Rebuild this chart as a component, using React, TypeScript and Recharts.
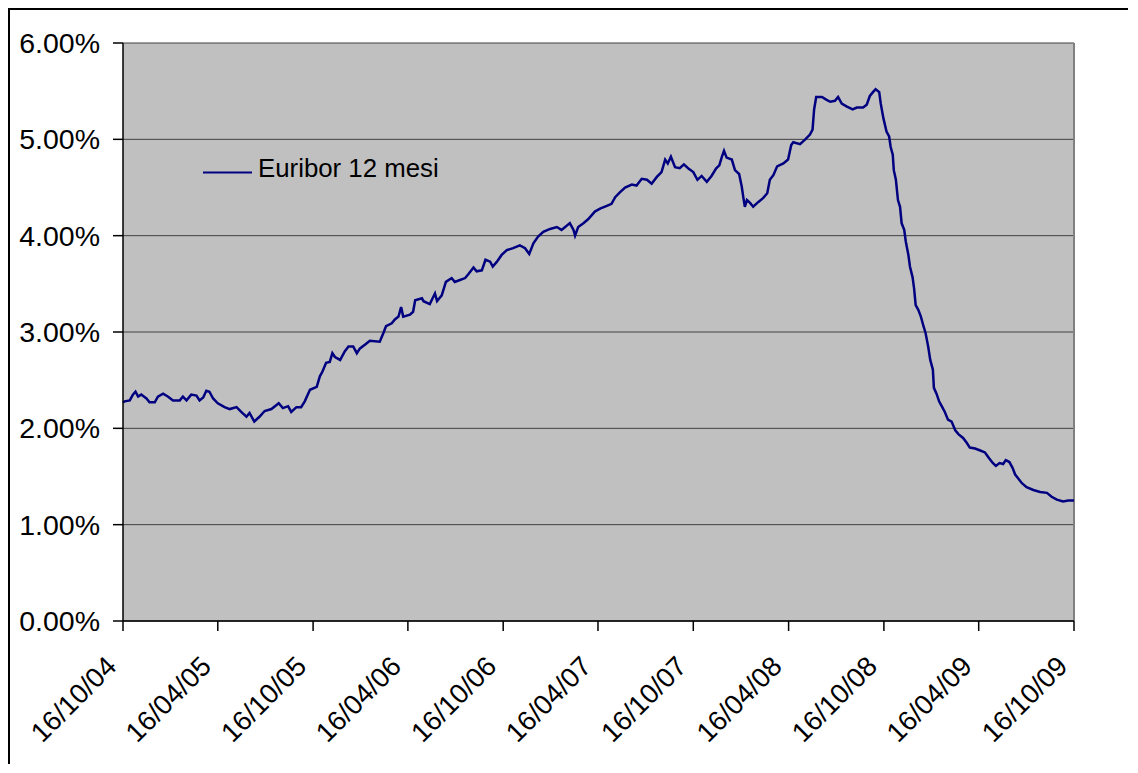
import { LineChart, Line, XAxis, YAxis, CartesianGrid, Legend, ReferenceLine } from 'recharts';

// days since 16/10/04
const days = [
  0, 3, 13, 19, 24, 29, 35, 45, 51, 61, 67, 77, 86, 96, 109, 115, 122, 131, 141, 147,
  154, 160, 166, 173, 182, 195, 205, 218, 227, 237, 243, 252, 262, 272, 285, 299, 307, 317, 323, 333,
  342, 349, 359, 372, 378, 383, 390, 397, 402, 407, 417, 426, 433, 442, 449, 455, 465, 474, 493, 500,
  505, 516, 522, 529, 534, 538, 551, 557, 561, 574, 577, 589, 599, 603, 612, 620, 631, 637, 647, 657,
  663, 673, 679, 689, 696, 705, 710, 718, 727, 737, 749, 762, 772, 780, 788, 797, 807, 820, 833, 842,
  849, 858, 865, 868, 874, 884, 893, 906, 916, 929, 938, 945, 954, 964, 977, 986, 996, 1006, 1015, 1025,
  1034, 1041, 1046, 1052, 1060, 1069, 1077, 1085, 1095, 1103, 1111, 1121, 1130, 1139, 1145, 1150, 1154, 1159, 1169, 1175,
  1183, 1188, 1191, 1194, 1198, 1204, 1210, 1220, 1229, 1237, 1242, 1249, 1256, 1268, 1277, 1283, 1287, 1300, 1310, 1319,
  1324, 1327, 1331, 1342, 1351, 1358, 1367, 1373, 1380, 1390, 1401, 1409, 1421, 1428, 1434, 1440, 1445, 1452, 1455, 1460,
  1466, 1471, 1474, 1478, 1480, 1484, 1488, 1492, 1495, 1500, 1503, 1508, 1511, 1516, 1519, 1522, 1527, 1532, 1537, 1541,
  1546, 1550, 1555, 1557, 1562, 1567, 1572, 1578, 1584, 1591, 1598, 1604, 1613, 1620, 1626, 1636, 1646, 1655, 1663, 1670,
  1676, 1683, 1690, 1695, 1702, 1708, 1713, 1719, 1726, 1735, 1748, 1761, 1774, 1783, 1793, 1805, 1815, 1826,
];

// Euribor 12 mesi, %
const rates = [
  2.27, 2.28, 2.29, 2.35, 2.38, 2.33, 2.35, 2.31, 2.27, 2.27, 2.33, 2.36, 2.33, 2.29, 2.29, 2.33, 2.29, 2.35, 2.34, 2.29,
  2.32, 2.39, 2.38, 2.31, 2.26, 2.22, 2.20, 2.22, 2.17, 2.12, 2.16, 2.07, 2.12, 2.18, 2.20, 2.26, 2.21, 2.23, 2.17, 2.22,
  2.22, 2.28, 2.40, 2.43, 2.54, 2.59, 2.68, 2.69, 2.78, 2.74, 2.71, 2.80, 2.85, 2.85, 2.78, 2.83, 2.87, 2.91, 2.90, 2.99,
  3.06, 3.09, 3.13, 3.16, 3.26, 3.16, 3.18, 3.21, 3.33, 3.35, 3.32, 3.29, 3.40, 3.32, 3.38, 3.52, 3.56, 3.52, 3.54, 3.56,
  3.60, 3.67, 3.63, 3.64, 3.75, 3.73, 3.68, 3.73, 3.80, 3.85, 3.87, 3.90, 3.87, 3.81, 3.92, 3.99, 4.04, 4.07, 4.09, 4.06,
  4.09, 4.13, 4.06, 4.00, 4.09, 4.13, 4.17, 4.25, 4.28, 4.31, 4.33, 4.40, 4.45, 4.50, 4.53, 4.52, 4.59, 4.58, 4.54, 4.61,
  4.66, 4.79, 4.75, 4.82, 4.71, 4.70, 4.74, 4.70, 4.66, 4.58, 4.62, 4.56, 4.62, 4.70, 4.73, 4.82, 4.88, 4.81, 4.79, 4.68,
  4.64, 4.51, 4.40, 4.30, 4.37, 4.34, 4.30, 4.35, 4.39, 4.44, 4.58, 4.63, 4.72, 4.75, 4.79, 4.94, 4.97, 4.95, 5.00, 5.05,
  5.10, 5.31, 5.44, 5.44, 5.41, 5.39, 5.40, 5.44, 5.37, 5.34, 5.31, 5.33, 5.33, 5.36, 5.45, 5.49, 5.52, 5.49, 5.37, 5.22,
  5.08, 5.03, 4.92, 4.84, 4.68, 4.58, 4.37, 4.30, 4.13, 4.06, 3.94, 3.80, 3.68, 3.57, 3.45, 3.28, 3.23, 3.16, 3.06, 2.99,
  2.85, 2.71, 2.61, 2.42, 2.36, 2.28, 2.23, 2.17, 2.09, 2.07, 1.98, 1.94, 1.90, 1.85, 1.80, 1.79, 1.77, 1.75, 1.69, 1.64,
  1.61, 1.64, 1.63, 1.67, 1.65, 1.59, 1.52, 1.48, 1.43, 1.39, 1.36, 1.34, 1.33, 1.29, 1.26, 1.24, 1.25, 1.25,
];

const tickLabels = [
  '16/10/04', '16/04/05', '16/10/05', '16/04/06', '16/10/06', '16/04/07',
  '16/10/07', '16/04/08', '16/10/08', '16/04/09', '16/10/09',
];

const yTicks = [0, 1, 2, 3, 4, 5, 6];

const seriesName = 'Euribor 12 mesi';

const toTime = (s: string) => {
  const [d, m, y] = s.split('/').map(Number);
  return Date.UTC(2000 + y, m - 1, d);
};
const start = toTime(tickLabels[0]);
const tickDays = tickLabels.map((s) => Math.round((toTime(s) - start) / 86400000));
const labelByDay: Record<number, string> = {};
tickDays.forEach((d, i) => (labelByDay[d] = tickLabels[i]));

const data = days.map((d, i) => ({ day: d, rate: rates[i] }));

const FONT = '"Liberation Sans", Arial, sans-serif';

function DateTick({ x, y, payload }: any) {
  const px = x - 5;
  const py = y + 35;
  return (
    <text
      x={px}
      y={py}
      transform={`rotate(-45, ${px}, ${py})`}
      textAnchor="end"
      fontSize={27.5}
      fontFamily={FONT}
      fill="#000"
    >
      {labelByDay[payload.value]}
    </text>
  );
}

function LegendBox() {
  return (
    <div style={{ display: 'flex', height: 30, lineHeight: '30px', fontFamily: FONT, fontSize: 25.8, color: '#000' }}>
      <svg width={49} height={30} style={{ display: 'block' }}>
        <line x1={0} y1={19.5} x2={49} y2={19.5} stroke="#000080" strokeWidth={2} />
      </svg>
      <span style={{ marginLeft: 6, whiteSpace: 'nowrap' }}>{seriesName}</span>
    </div>
  );
}

export default function App() {
  return (
    <div style={{ width: 1118, height: 754, borderTop: '2px solid #000', borderLeft: '2px solid #000', background: '#fff' }}>
      <LineChart width={1118} height={754} data={data} margin={{ top: 33, right: 54, bottom: 0, left: 0 }}>
        <CartesianGrid vertical={false} fill="#C0C0C0" stroke="#404040" strokeWidth={1} />
        <ReferenceLine x={1826} stroke="#808080" strokeWidth={2} />
        <XAxis
          dataKey="day"
          type="number"
          domain={[0, 1826]}
          ticks={tickDays}
          interval={0}
          height={143}
          tickSize={10}
          tickMargin={2}
          stroke="#000"
          strokeWidth={1.5}
          tick={<DateTick />}
        />
        <YAxis
          type="number"
          domain={[0, 6]}
          ticks={yTicks}
          interval={0}
          width={113}
          tickSize={10}
          tickMargin={13}
          stroke="#000"
          strokeWidth={1.5}
          tickFormatter={(v: number) => `${v.toFixed(2)}%`}
          tick={{ fill: '#000', fontSize: 28.5, fontFamily: FONT }}
        />
        <Legend
          layout="vertical"
          align="center"
          verticalAlign="middle"
          wrapperStyle={{ left: 193, top: 143, width: 'auto', height: 'auto' }}
          content={() => <LegendBox />}
        />
        <Line
          type="linear"
          dataKey="rate"
          name={seriesName}
          stroke="#000080"
          strokeWidth={2.5}
          dot={false}
          activeDot={false}
          isAnimationActive={false}
        />
      </LineChart>
    </div>
  );
}
